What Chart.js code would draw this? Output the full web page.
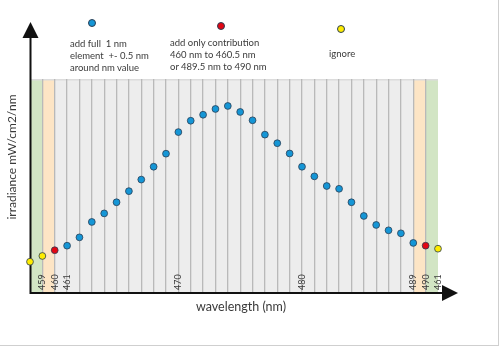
<!DOCTYPE html>
<html>
<head>
<meta charset="utf-8">
<script src="https://cdn.jsdelivr.net/npm/chart.js@4"></script>
<style>
  body { margin: 0; background: #fff; }
  #wrap { position: relative; width: 500px; height: 348px; font-family: Lato, sans-serif; color: #3a3a3a; }
  #wrap canvas { position: absolute; left: 0; top: 0; }
  .key { position: absolute; font-size: 9.5px; line-height: 12px; white-space: nowrap; }
  .dot { position: absolute; width: 6px; height: 6px; border-radius: 50%; border: 0.8px solid #2b3f55; }
  #frame { position: absolute; left: 0; top: 0; width: 498px; height: 345px; border-right: 1px solid #cfcfcf; border-bottom: 1px solid #cfcfcf; pointer-events: none; }
</style>
</head>
<body>
<div id="wrap">
  <canvas id="myChart" width="500" height="348"></canvas>
  <div class="dot" style="left:88px; top:19px; background:#1596d6;"></div>
  <div class="key" style="left:70px; top:38px;">add full &nbsp;1 nm<br>element &nbsp;+- 0.5 nm<br>around nm value</div>
  <div class="dot" style="left:217px; top:22px; background:#e30613;"></div>
  <div class="key" style="left:170px; top:37px;">add only contribution<br>460 nm to 460.5 nm<br>or 489.5 nm to 490 nm</div>
  <div class="dot" style="left:337px; top:25px; background:#ffec00;"></div>
  <div class="key" style="left:329px; top:48px;">ignore</div>
  <div id="frame"></div>
</div>
<script>
'use strict';

// wavelengths (nm) and irradiance (arbitrary units, 0..100)
let blueNm = [461, 462, 463, 464, 465, 466, 467, 468, 469, 470, 471, 472, 473, 474, 475,
    476, 477, 478, 479, 480, 481, 482, 483, 484, 485, 486, 487, 488, 489];
let blueVals = [22.1, 26.0, 33.2, 37.2, 42.4, 47.6, 53.0, 59.0, 65.1, 75.2, 80.5, 83.3, 86.0, 87.4, 84.6,
    80.7, 74.0, 70.0, 65.2, 59.0, 54.5, 50.0, 48.7, 42.4, 36.0, 31.8, 29.3, 27.9, 23.4];
let redNm = [460, 490];
let redVals = [20.0, 22.1];
let yellowNm = [458, 459, 491];
let yellowVals = [14.6, 17.3, 20.7];

// labels written inside the plot (the last one really says 461 in the original)
let tickNm = [459, 460, 461, 470, 480, 489, 490, 491];
let tickText = ['459', '460', '461', '470', '480', '489', '490', '461'];

// shaded bands: green, orange, gray, orange, green
let bandFrom = [458, 459, 460, 489, 490];
let bandTo = [459, 460, 489, 490, 491];
let bandColors = ['#d2e5c4', '#fde5c5', '#ededed', '#fde5c5', '#d2e5c4'];

function toPoints(xs, ys) {
    let pts = [];
    for (let i = 0; i < xs.length; i++) {
        pts.push({ x: xs[i], y: ys[i] });
    }
    return pts;
}

let backdrop = {
    id: 'backdrop',
    beforeDraw(chart) {
        let ctx = chart.ctx;
        let x = chart.scales.x;
        let area = chart.chartArea;
        ctx.save();
        for (let i = 0; i < bandFrom.length; i++) {
            let l = x.getPixelForValue(bandFrom[i]);
            let r = x.getPixelForValue(bandTo[i]);
            ctx.fillStyle = bandColors[i];
            ctx.fillRect(l, area.top, r - l, area.bottom - area.top);
        }
        ctx.fillStyle = '#dcdcdc';
        ctx.fillRect(area.left, area.top, area.right - area.left, 1.5);
        ctx.restore();
    },
    beforeDatasetsDraw(chart) {
        let ctx = chart.ctx;
        let x = chart.scales.x;
        let area = chart.chartArea;
        ctx.save();

        // labels inside the plot
        ctx.fillStyle = '#3a3a3a';
        ctx.font = '9px Lato, sans-serif';
        ctx.textAlign = 'left';
        ctx.textBaseline = 'middle';
        for (let i = 0; i < tickNm.length; i++) {
            ctx.save();
            ctx.translate(x.getPixelForValue(tickNm[i]), area.bottom - 3);
            ctx.rotate(-Math.PI / 2);
            ctx.fillText(tickText[i], 0, 0);
            ctx.restore();
        }

        // axes with arrow heads
        let ox = area.left + 0.5;
        let oy = area.bottom;
        ctx.strokeStyle = '#111';
        ctx.fillStyle = '#111';
        ctx.lineWidth = 2;
        ctx.beginPath();
        ctx.moveTo(ox, oy + 1);
        ctx.lineTo(ox, 36);
        ctx.moveTo(ox - 1, oy);
        ctx.lineTo(444, oy);
        ctx.stroke();
        ctx.beginPath();
        ctx.moveTo(ox, 22);
        ctx.lineTo(ox - 8, 38);
        ctx.lineTo(ox + 8, 38);
        ctx.closePath();
        ctx.fill();
        ctx.beginPath();
        ctx.moveTo(458, oy);
        ctx.lineTo(442, oy - 8);
        ctx.lineTo(442, oy + 8);
        ctx.closePath();
        ctx.fill();

        // axis titles
        ctx.fillStyle = '#3a3a3a';
        ctx.font = '12.5px Lato, sans-serif';
        ctx.textAlign = 'center';
        ctx.textBaseline = 'middle';
        ctx.fillText('wavelength (nm)', 241, 307);
        ctx.save();
        ctx.translate(12, 157);
        ctx.rotate(-Math.PI / 2);
        ctx.font = '12px Lato, sans-serif';
        ctx.fillText('irradiance mW/cm2/nm', 0, 0);
        ctx.restore();

        ctx.restore();
    }
};

let dotStyle = { pointRadius: 3.4, pointHoverRadius: 3.4, pointBorderWidth: 0.8, pointBorderColor: '#2b3f55', clip: false };

var ctx = document.getElementById('myChart').getContext('2d');
new Chart(ctx, {
    type: 'scatter',
    data: {
        datasets: [
            Object.assign({ label: 'full', data: toPoints(blueNm, blueVals), pointBackgroundColor: '#1596d6' }, dotStyle),
            Object.assign({ label: 'partial', data: toPoints(redNm, redVals), pointBackgroundColor: '#e30613' }, dotStyle),
            Object.assign({ label: 'ignore', data: toPoints(yellowNm, yellowVals), pointBackgroundColor: '#ffec00' }, dotStyle)
        ]
    },
    options: {
        responsive: false,
        animation: false,
        events: [],
        layout: { autoPadding: false, padding: { left: 30, right: 62, top: 79, bottom: 55 } },
        plugins: { legend: { display: false }, tooltip: { enabled: false } },
        scales: {
            x: {
                type: 'linear',
                min: 458,
                max: 491,
                ticks: { display: false, stepSize: 1 },
                border: { display: false },
                grid: {
                    drawTicks: false,
                    lineWidth: 1.3,
                    color: function (c) {
                        let v = c.tick ? c.tick.value : null;
                        return (v === 458 || v === 491) ? 'rgba(0,0,0,0)' : '#b9b9b9';
                    }
                }
            },
            y: { display: false, min: 0, max: 100 }
        }
    },
    plugins: [backdrop]
});
</script>
</body>
</html>
